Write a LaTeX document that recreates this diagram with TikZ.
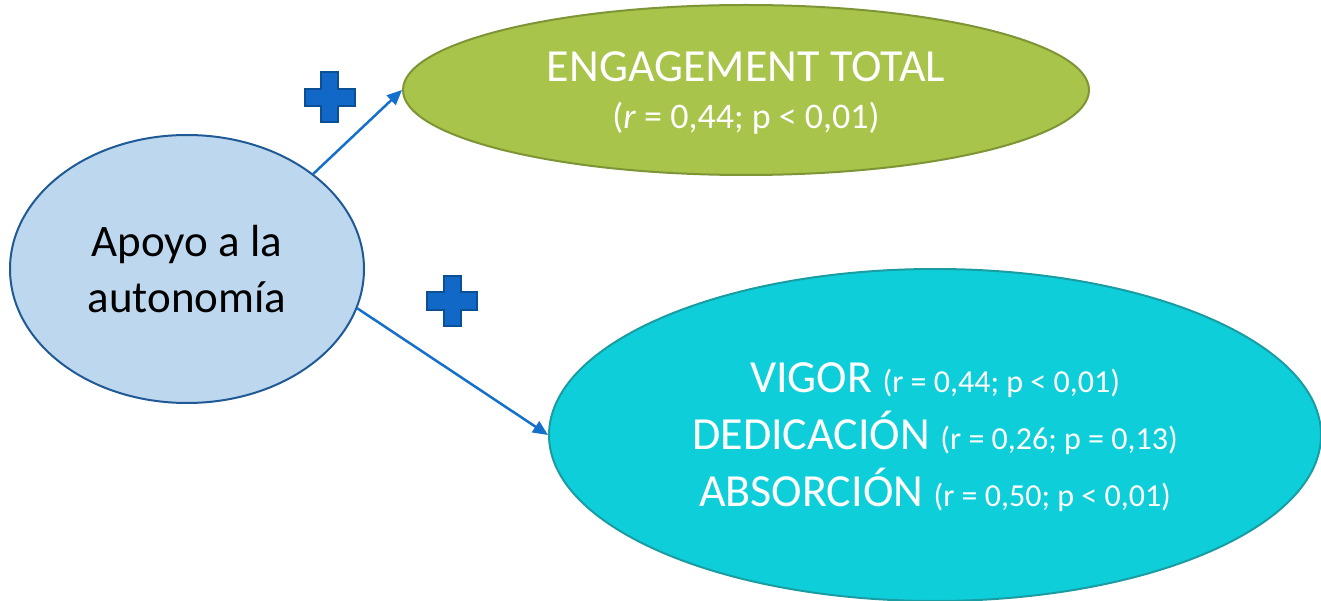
\documentclass[tikz,border=0pt]{standalone}
\usepackage{fontspec}
\setmainfont{Carlito}
\usetikzlibrary{shapes.geometric,arrows.meta}
\definecolor{apoyofill}{HTML}{BDD7EE}
\definecolor{apoyoline}{HTML}{1F5A96}
\definecolor{engfill}{HTML}{A8C44A}
\definecolor{engline}{HTML}{7E9535}
\definecolor{dimfill}{HTML}{0ECFD9}
\definecolor{dimline}{HTML}{1A9CA3}
\definecolor{linkblue}{HTML}{1570CC}
\definecolor{plusfill}{HTML}{1268C6}
\definecolor{plusline}{HTML}{0B4F94}
\begin{document}
\begin{tikzpicture}[x=1pt,y=-1pt,
  bubble/.style={ellipse,inner sep=0pt,line width=2pt,align=center},
  link/.style={linkblue,line width=2.5pt,-{Triangle[length=15pt,width=13pt]}},
  plusmark/.style={fill=plusfill,draw=plusline,line width=2pt,line join=miter}]
\useasboundingbox (0,0) rectangle (1321,601);
\node [bubble,fill=apoyofill,draw=apoyoline,minimum width=354pt,minimum height=268pt,
  font=\fontsize{45}{56}\selectfont] (apoyo) at (187,269) {Apoyo a la\\autonomía};
\node [bubble,fill=engfill,draw=engline,minimum width=686pt,minimum height=170pt,
  text=white,font=\fontsize{46}{47}\selectfont,text depth=-15pt] (engage) at (746,90)
  {ENGAGEMENT TOTAL\\
   {\fontsize{36}{47}\selectfont (\textit{r} = 0,44; p < 0,01)}};
\node [bubble,fill=dimfill,draw=dimline,minimum width=772pt,minimum height=332pt,
  text=white,font=\fontsize{46}{57}\selectfont,text depth=-6pt] (dims) at (935,435)
  {VIGOR {\fontsize{32}{57}\selectfont (r = 0,44; p < 0,01)}\\
   DEDICACIÓN {\fontsize{32}{57}\selectfont (r = 0,26; p = 0,13)}\\
   ABSORCIÓN {\fontsize{32}{57}\selectfont (r = 0,50; p < 0,01)}};
\draw [link] (apoyo.37) -- (engage.west);
\draw [link] (apoyo.-13) -- (dims.west);
\foreach \cx/\cy in {329.5/97.5, 452/301}
  \draw [plusmark] (\cx-8.5,\cy-25) -- ++(17,0) -- ++(0,16.5) -- ++(16.5,0) -- ++(0,17)
    -- ++(-16.5,0) -- ++(0,16.5) -- ++(-17,0) -- ++(0,-16.5) -- ++(-16.5,0)
    -- ++(0,-17) -- ++(16.5,0) -- cycle;
\end{tikzpicture}
\end{document}
